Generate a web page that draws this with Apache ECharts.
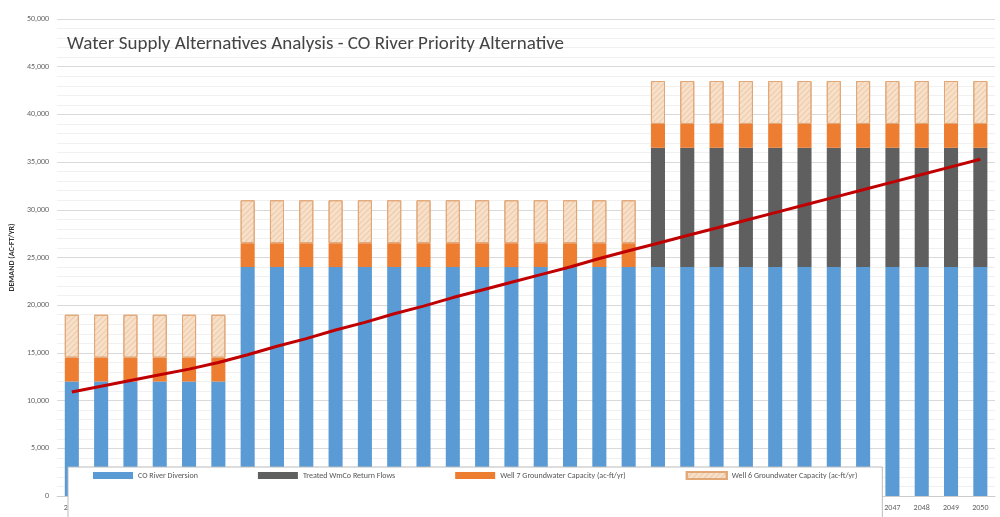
<!DOCTYPE html>
<html>
<head>
<meta charset="utf-8">
<script src="https://cdn.jsdelivr.net/npm/echarts@6/dist/echarts.min.js"></script>
<style>html,body{margin:0;padding:0;background:#fff}</style>
</head>
<body>
<div id="chart" style="width:1000px;height:517px"></div>
<script>
const years = []
for (let y = 2019; y <= 2050; y++) years.push(String(y))

// values (ac-ft/yr)
const coRiver = [12000,12000,12000,12000,12000,12000,
  24000,24000,24000,24000,24000,24000,24000,24000,24000,24000,24000,24000,24000,24000,
  24000,24000,24000,24000,24000,24000,24000,24000,24000,24000,24000,24000]
const wmcoReturn = [0,0,0,0,0,0, 0,0,0,0,0,0,0,0,0,0,0,0,0,0,
  12500,12500,12500,12500,12500,12500,12500,12500,12500,12500,12500,12500]
const well7 = [2500,2500,2500,2500,2500,2500, 2500,2500,2500,2500,2500,2500,2500,2500,2500,2500,2500,2500,2500,2500,
  2500,2500,2500,2500,2500,2500,2500,2500,2500,2500,2500,2500]
const well6 = [4500,4500,4500,4500,4500,4500, 4500,4500,4500,4500,4500,4500,4500,4500,4500,4500,4500,4500,4500,4500,
  4500,4500,4500,4500,4500,4500,4500,4500,4500,4500,4500,4500]
const mpDemand = [10900,11500,12100,12700,13300,14000,14800,15700,16500,17400,18200,19100,
  19900,20800,21600,22400,23200,24000,24900,25700,26500,27300,28100,28900,29700,
  30500,31300,32100,32900,33700,34500,35300]

const chart = echarts.init(document.getElementById('chart'))
const font = 'Calibri, "Liberation Sans", Arial, sans-serif'
const bar = (name, data, color, extra) => Object.assign({
  name, type: 'bar', stack: 'supply', data, barCategoryGap: '52%',
  itemStyle: { color }
}, extra || {})

chart.setOption({
  animation: false,
  textStyle: { fontFamily: font },
  title: {
    text: 'Water Supply Alternatives Analysis - CO River Priority Alternative',
    left: 62, top: 30,
    textStyle: { fontSize: 19, fontWeight: 'normal', color: '#444', fontFamily: font }
  },
  grid: { left: 52, right: 5, top: 19, bottom: 21 },
  legend: {
    top: 467, left: 68, width: 865,
    itemGap: 60, itemWidth: 40, itemHeight: 7,
    backgroundColor: '#fff', borderColor: '#bbb', borderWidth: 1, padding: [4, 25],
    textStyle: { fontSize: 8, color: '#555' },
    data: [
      { name: 'CO River Diversion', icon: 'rect' },
      { name: 'Treated WmCo Return Flows', icon: 'rect' },
      { name: 'Well 7 Groundwater Capacity (ac-ft/yr)', icon: 'rect' },
      { name: 'Well 6 Groundwater Capacity (ac-ft/yr)', icon: 'rect' },
      { name: 'MP Avg Demand (ac-ft/yr)', icon: 'rect', itemStyle: { color: '#c00000' } }
    ]
  },
  xAxis: {
    type: 'category', data: years,
    axisLine: { lineStyle: { color: '#ccc' } },
    axisTick: { show: false },
    axisLabel: { fontSize: 8, color: '#666', interval: 0 }
  },
  yAxis: {
    type: 'value', min: 0, max: 50000, interval: 5000,
    name: 'DEMAND (AC-FT/YR)', nameLocation: 'middle', nameGap: 40,
    nameTextStyle: { fontSize: 8, fontWeight: 'bold', color: '#333' },
    axisLabel: { fontSize: 8, color: '#666', formatter: v => v.toLocaleString('en-US') },
    splitLine: { lineStyle: { color: '#d9d9d9' } },
    minorTick: { show: false, splitNumber: 5 },
    minorSplitLine: { show: true, lineStyle: { color: '#f0f0f0' } }
  },
  series: [
    bar('CO River Diversion', coRiver, '#5b9bd5'),
    bar('Treated WmCo Return Flows', wmcoReturn, '#5f5f5f'),
    bar('Well 7 Groundwater Capacity (ac-ft/yr)', well7, '#ed7d31'),
    bar('Well 6 Groundwater Capacity (ac-ft/yr)', well6, '#f8e0c8', {
      itemStyle: {
        color: '#f8e0c8', borderColor: '#e2a777', borderWidth: 1,
        decal: { symbol: 'rect', color: 'rgba(210,160,120,0.35)', dashArrayX: [1, 0], dashArrayY: [1, 3], rotation: -Math.PI / 4 }
      }
    }),
    {
      name: 'MP Avg Demand (ac-ft/yr)', type: 'line', data: mpDemand,
      symbol: 'none', smooth: false,
      lineStyle: { color: '#c00000', width: 3 }, itemStyle: { color: '#c00000' }, z: 5
    }
  ]
})
</script>
</body>
</html>
